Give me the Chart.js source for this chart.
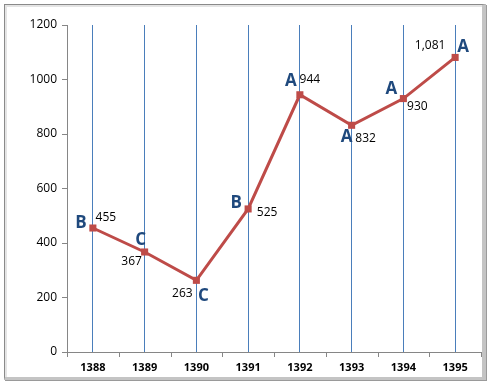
<!DOCTYPE html>
<html>
<head>
<meta charset="utf-8">
<script src="https://cdn.jsdelivr.net/npm/chart.js@4/dist/chart.umd.min.js"></script>
<style>
  html, body { margin: 0; padding: 0; background: #fff; }
  #wrap { position: relative; width: 491px; height: 388px; }
  #frame {
    position: absolute; left: 4px; top: 4px; width: 477px; height: 372px;
    border: 1px solid #8a8a8a;
    border-right: 4px solid #c4c4c4;
    border-bottom: 3px solid #c4c4c4;
    box-shadow: inset 2px 2px 0 #e4e4e4, 1px 1px 0 #9a9a9a;
  }
  canvas { position: absolute; left: 0; top: 0; }
</style>
</head>
<body>
<div id="wrap">
  <div id="frame"></div>
  <canvas id="chart" width="491" height="388"></canvas>
</div>
<script>
// data
const years = ['1388', '1389', '1390', '1391', '1392', '1393', '1394', '1395'];
const values = [455, 367, 263, 525, 944, 832, 930, 1081];
const grades = ['B', 'C', 'C', 'B', 'A', 'A', 'A', 'A'];
const yTicks = [0, 200, 400, 600, 800, 1000, 1200];

// label offsets from the point (value label, grade label)
const valueOffsets = [[13, -10], [-13, 10], [-14, 13], [19, 4], [10, -15], [14, 13], [14, 8], [-25, -12]];
const gradeOffsets = [[-12, -5], [-4, -12], [7, 16], [-12, -6], [-9, -14], [-5, 12], [-12, -9], [8, -10]];

const lineColor = '#be4b48';
const gridBlue = '#4a7ebb';
const axisGrey = '#868686';

const labelsPlugin = {
    id: 'pointLabels',
    afterDraw(chart) {
        const ctx = chart.ctx;
        const xs = chart.scales.x;
        const area = chart.chartArea;
        const meta = chart.getDatasetMeta(0);

        // tick marks between categories, below the axis
        ctx.save();
        ctx.strokeStyle = axisGrey;
        ctx.lineWidth = 1;
        for (let i = 0; i <= years.length; i++) {
            const x = Math.round(xs.getPixelForValue(i - 0.5)) + 0.5;
            ctx.beginPath();
            ctx.moveTo(x, area.bottom);
            ctx.lineTo(x, area.bottom + 5);
            ctx.stroke();
        }
        ctx.restore();

        ctx.save();
        ctx.textAlign = 'center';
        ctx.textBaseline = 'middle';
        meta.data.forEach((pt, i) => {
            ctx.font = '12px "Open Sans", sans-serif';
            ctx.fillStyle = '#000';
            ctx.fillText(values[i].toLocaleString('en-US'), pt.x + valueOffsets[i][0], pt.y + valueOffsets[i][1]);
            ctx.font = 'bold 17px "Open Sans", sans-serif';
            ctx.fillStyle = '#1f497d';
            ctx.fillText(grades[i], pt.x + gradeOffsets[i][0], pt.y + gradeOffsets[i][1]);
        });
        ctx.restore();
    }
};

new Chart(document.getElementById('chart').getContext('2d'), {
    type: 'line',
    data: {
        labels: years,
        datasets: [{
            data: values,
            borderColor: lineColor,
            borderWidth: 3,
            backgroundColor: lineColor,
            pointStyle: 'rect',
            pointRadius: 5,
            pointBorderWidth: 0,
            tension: 0
        }]
    },
    options: {
        responsive: false,
        animation: false,
        layout: { padding: { top: 25, right: 10, left: 0, bottom: 0 } },
        plugins: {
            legend: { display: false },
            tooltip: { enabled: false }
        },
        scales: {
            x: {
                offset: true,
                grid: {
                    offset: false,
                    color: gridBlue,
                    lineWidth: 1,
                    drawTicks: false
                },
                border: { color: axisGrey, width: 1 },
                ticks: {
                    color: '#000',
                    padding: 9,
                    font: { family: '"Open Sans", sans-serif', size: 11, weight: 'bold' }
                },
                afterFit(scale) { scale.height = 36; }
            },
            y: {
                min: 0,
                max: 1200,
                afterBuildTicks(scale) { scale.ticks = yTicks.map(v => ({ value: v })); },
                grid: {
                    drawOnChartArea: false,
                    tickLength: 5,
                    tickColor: axisGrey
                },
                border: { color: axisGrey, width: 1 },
                ticks: {
                    color: '#000',
                    padding: 5,
                    callback: v => String(v),
                    font: { family: '"Open Sans", sans-serif', size: 12 }
                },
                afterFit(scale) { scale.width = 67; }
            }
        }
    },
    plugins: [labelsPlugin]
});
</script>
</body>
</html>
